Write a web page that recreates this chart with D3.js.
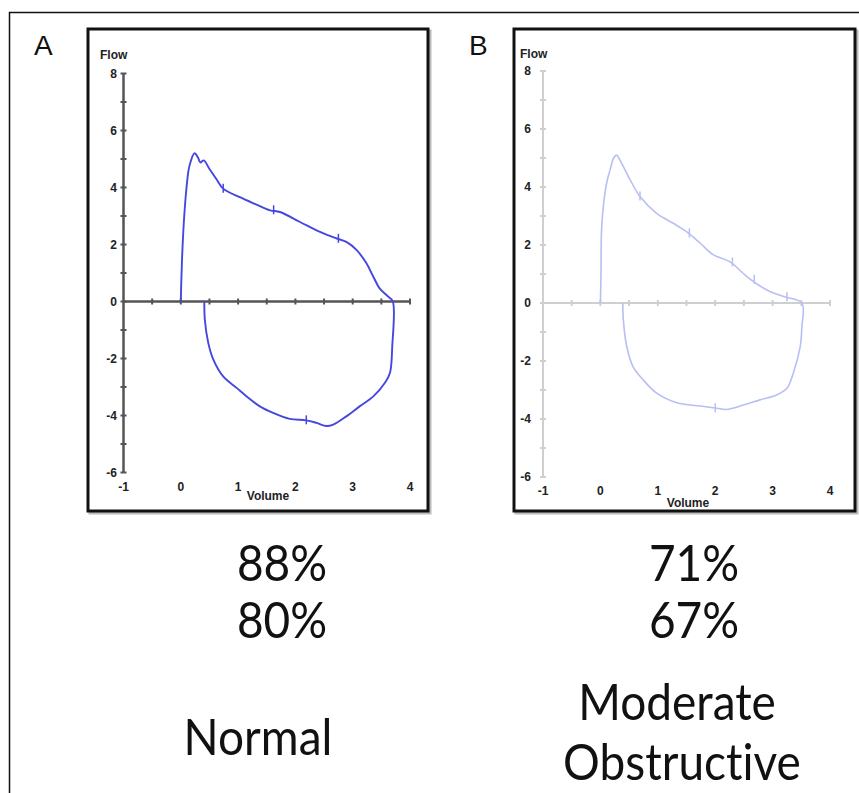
<!DOCTYPE html>
<html>
<head>
<meta charset="utf-8">
<script src="https://cdn.jsdelivr.net/npm/d3@7"></script>
<style>
  body { margin: 0; background: #fff; }
  .tick-lbl { font-family: "Liberation Sans", Arial, sans-serif; font-weight: bold; font-size: 12px; fill: #222; }
  .big { font-family: Lato, "Open Sans", sans-serif; font-size: 46px; fill: #111; font-variant-ligatures: none; }
</style>
</head>
<body>
<svg id="chart" width="859" height="793"></svg>
<script>
// Flow-volume loops, panel A (normal) and panel B (moderate obstructive)
const volumeA = [0, 0.01, 0.03, 0.06, 0.1, 0.15, 0.24, 0.3, 0.34, 0.4, 0.5, 0.62, 0.74, 1.03, 1.3, 1.56, 1.73, 2.08, 2.43, 2.72, 2.89, 3.07, 3.24, 3.36, 3.47, 3.62, 3.7,
  3.69, 3.65, 3.56, 3.36, 3.12, 2.89, 2.66, 2.54, 2.37, 2.19, 1.9, 1.61, 1.38, 1.15, 0.98, 0.74, 0.57, 0.48, 0.42, 0.41];
const flowA = [0, 0.8, 1.9, 3.0, 4.0, 4.75, 5.2, 5.05, 4.88, 4.95, 4.65, 4.3, 3.96, 3.66, 3.42, 3.2, 3.14, 2.79, 2.44, 2.21, 2.09, 1.8, 1.34, 0.87, 0.46, 0.17, 0,
  -1.58, -2.51, -2.86, -3.33, -3.68, -4.03, -4.32, -4.37, -4.26, -4.17, -4.12, -3.91, -3.68, -3.33, -3.04, -2.63, -2.05, -1.46, -0.65, 0];
const volumeB = [0, 0.01, 0.02, 0.06, 0.12, 0.17, 0.23, 0.28, 0.36, 0.46, 0.52, 0.69, 0.98, 1.27, 1.5, 1.74, 1.97, 2.26, 2.55, 2.9, 3.19, 3.51,
  3.51, 3.48, 3.36, 3.25, 3.07, 2.78, 2.49, 2.2, 2.03, 1.74, 1.33, 0.98, 0.75, 0.57, 0.46, 0.4, 0.39];
const flowB = [0, 1.0, 2.52, 3.5, 4.24, 4.6, 5.0, 5.1, 4.85, 4.47, 4.24, 3.67, 3.09, 2.75, 2.46, 2.06, 1.66, 1.42, 0.91, 0.45, 0.22, 0,
  -0.82, -1.51, -2.42, -2.94, -3.17, -3.34, -3.52, -3.67, -3.63, -3.55, -3.44, -3.11, -2.66, -2.2, -1.51, -0.59, 0];

// small event marks along each trace
const marksA = [[0.74, 3.96], [1.62, 3.2], [2.75, 2.2], [2.19, -4.17]];
const marksB = [[0.69, 3.67], [1.55, 2.4], [2.3, 1.4], [2.68, 0.8], [3.25, 0.2], [2.0, -3.63]];

const xTickLabels = [-1, 0, 1, 2, 3, 4];
const xMinorTicks = [-0.5, 0, 0.5, 1, 1.5, 2, 2.5, 3, 3.5, 4];
const yTickLabels = [8, 6, 4, 2, 0, -2, -4, -6];
const yMinorTicks = [8, 7, 6, 5, 4, 3, 2, 1, 0, -1, -2, -3, -4, -5, -6];

const panelLetters = ["A", "B"];
const ratio1 = ["88%", "71%"];
const ratio2 = ["80%", "67%"];
const diagnosis = [["Normal"], ["Moderate", "Obstructive"]];

const svg = d3.select("#chart");

// outer frame
svg.append("path")
  .attr("d", "M9.5,793 L9.5,12.5 L859,12.5")
  .attr("fill", "none")
  .attr("stroke", "#111")
  .attr("stroke-width", 1.5);

const panels = [
  { box: [88, 29, 428, 511], xr: [123.5, 410], yr: [472.5, 73.5], axis: "#555", aw: 2.5, line: "#4646e0", lw: 1.9,
    vol: volumeA, flow: flowA, marks: marksA, letterX: 34, textX: [282, 282], diagX: [258], diagY: [755],
    volLbl: [268, 500], flowLbl: [100, 59], xLblY: 491, yLblX: 117 },
  { box: [514, 29, 855, 511], xr: [543, 830], yr: [477, 71], axis: "#cfcfcf", aw: 2, line: "#b7bff3", lw: 1.6,
    vol: volumeB, flow: flowB, marks: marksB, letterX: 469, textX: [694, 694], diagX: [677, 682], diagY: [720, 780],
    volLbl: [688, 507], flowLbl: [520, 58], xLblY: 495, yLblX: 531 }
];

// big labels are slightly stretched vertically in the original
function bigText(x, y, t) {
  svg.append("text").attr("class", "big")
    .attr("transform", `translate(${x},${y}) scale(1,1.1)`)
    .attr("text-anchor", "middle")
    .text(t);
}

panels.forEach((p, i) => {
  const g = svg.append("g");
  const [x0, y0, x1, y1] = p.box;

  // box with a soft shadow
  g.append("rect")
    .attr("x", x0 + 2).attr("y", y0 + 2)
    .attr("width", x1 - x0).attr("height", y1 - y0)
    .attr("fill", "none").attr("stroke", "#bbb").attr("stroke-width", 3);
  g.append("rect")
    .attr("x", x0).attr("y", y0)
    .attr("width", x1 - x0).attr("height", y1 - y0)
    .attr("fill", "#fff").attr("stroke", "#111").attr("stroke-width", 3);

  const x = d3.scaleLinear().domain([-1, 4]).range(p.xr);
  const y = d3.scaleLinear().domain([-6, 8]).range(p.yr);

  // y axis line and ticks
  g.append("line")
    .attr("x1", x(-1)).attr("x2", x(-1))
    .attr("y1", y(8)).attr("y2", y(-6))
    .attr("stroke", p.axis).attr("stroke-width", p.aw);
  g.selectAll(".ytk").data(yMinorTicks).enter().append("line")
    .attr("x1", x(-1) - 3).attr("x2", x(-1) + 3)
    .attr("y1", d => y(d)).attr("y2", d => y(d))
    .attr("stroke", p.axis).attr("stroke-width", 2);
  g.selectAll(".ylbl").data(yTickLabels).enter().append("text")
    .attr("class", "tick-lbl")
    .attr("x", p.yLblX).attr("y", d => y(d) + 4)
    .attr("text-anchor", "end")
    .text(d => d);

  // x axis along flow = 0
  g.append("line")
    .attr("x1", x(-1)).attr("x2", x(4))
    .attr("y1", y(0)).attr("y2", y(0))
    .attr("stroke", p.axis).attr("stroke-width", p.aw);
  g.selectAll(".xtk").data(xMinorTicks).enter().append("line")
    .attr("x1", d => x(d)).attr("x2", d => x(d))
    .attr("y1", y(0) - 3).attr("y2", y(0) + 3)
    .attr("stroke", p.axis).attr("stroke-width", 2);
  g.selectAll(".xlbl").data(xTickLabels).enter().append("text")
    .attr("class", "tick-lbl")
    .attr("x", d => x(d)).attr("y", p.xLblY)
    .attr("text-anchor", "middle")
    .text(d => d);

  g.append("text").attr("class", "tick-lbl")
    .attr("x", p.volLbl[0]).attr("y", p.volLbl[1])
    .attr("text-anchor", "middle")
    .text("Volume");
  g.append("text").attr("class", "tick-lbl")
    .attr("x", p.flowLbl[0]).attr("y", p.flowLbl[1])
    .text("Flow");

  // the loop
  const pts = p.vol.map((v, k) => [v, p.flow[k]]);
  const line = d3.line()
    .x(d => x(d[0])).y(d => y(d[1]))
    .curve(d3.curveCatmullRom.alpha(0.5));
  g.append("path")
    .attr("d", line(pts))
    .attr("fill", "none")
    .attr("stroke", p.line)
    .attr("stroke-width", p.lw)
    .attr("stroke-linejoin", "round");
  g.selectAll(".mk").data(p.marks).enter().append("line")
    .attr("x1", d => x(d[0])).attr("x2", d => x(d[0]))
    .attr("y1", d => y(d[1]) - 5).attr("y2", d => y(d[1]) + 4)
    .attr("stroke", p.line).attr("stroke-width", 1.5);

  // panel letter
  svg.append("text")
    .attr("x", p.letterX).attr("y", 55)
    .attr("font-family", "Liberation Sans, Arial, sans-serif")
    .attr("font-size", 28)
    .attr("fill", "#111")
    .text(panelLetters[i]);

  // ratios and diagnosis under the box
  bigText(p.textX[0], 581, ratio1[i]);
  bigText(p.textX[1], 638, ratio2[i]);
  diagnosis[i].forEach((t, k) => bigText(p.diagX[k], p.diagY[k], t));
});
</script>
</body>
</html>
